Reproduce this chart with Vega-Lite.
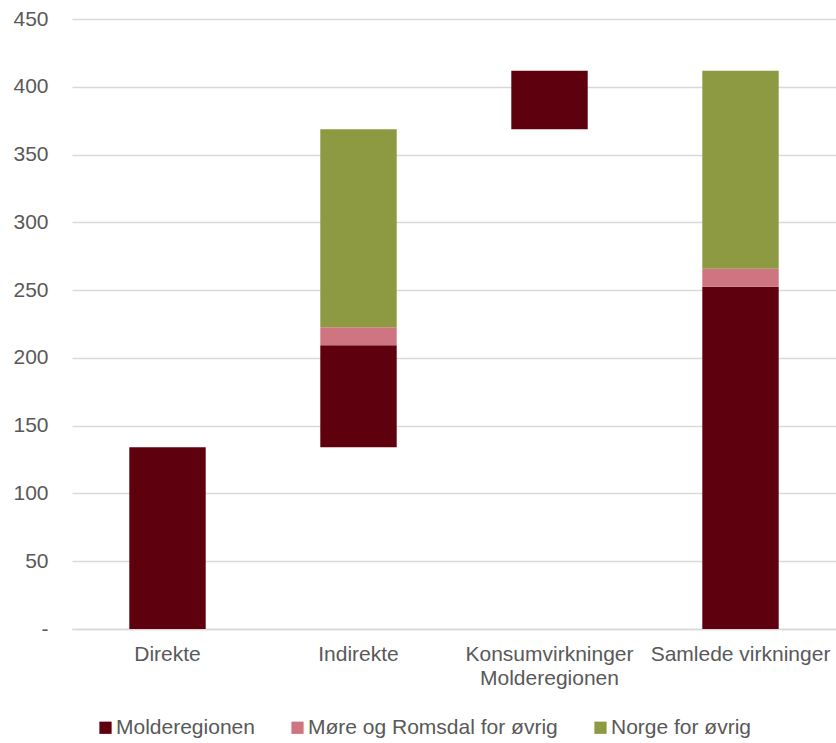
{
  "$schema": "https://vega.github.io/schema/vega-lite/v6.json",
  "width": 764,
  "height": 610,
  "autosize": "none",
  "padding": {"left": 72, "top": 19, "right": 0, "bottom": 114},
  "background": "white",
  "config": {
    "view": {"stroke": null},
    "font": "Liberation Sans"
  },
  "data": {
    "values": [
      {"kategori": "Direkte", "serie": "Molderegionen", "fra": 0, "til": 134},
      {"kategori": "Indirekte", "serie": "Molderegionen", "fra": 134, "til": 209.4},
      {"kategori": "Indirekte", "serie": "Møre og Romsdal for øvrig", "fra": 209.4, "til": 222.6},
      {"kategori": "Indirekte", "serie": "Norge for øvrig", "fra": 222.6, "til": 368.7},
      {"kategori": "Konsumvirkninger Molderegionen", "serie": "Molderegionen", "fra": 368.7, "til": 411.8},
      {"kategori": "Samlede virkninger", "serie": "Molderegionen", "fra": 0, "til": 252.5},
      {"kategori": "Samlede virkninger", "serie": "Møre og Romsdal for øvrig", "fra": 252.5, "til": 265.8},
      {"kategori": "Samlede virkninger", "serie": "Norge for øvrig", "fra": 265.8, "til": 411.8}
    ]
  },
  "mark": {"type": "bar"},
  "encoding": {
    "x": {
      "field": "kategori",
      "type": "nominal",
      "sort": ["Direkte", "Indirekte", "Konsumvirkninger Molderegionen", "Samlede virkninger"],
      "scale": {"paddingInner": 0.6, "paddingOuter": 0.3},
      "axis": {
        "title": null,
        "labelAngle": 0,
        "labelFontSize": 21,
        "labelColor": "#595959",
        "labelPadding": 14,
        "labelLineHeight": 24,
        "labelLimit": 300,
        "ticks": false,
        "domain": true,
        "domainColor": "#D9D9D9",
        "domainWidth": 1.3,
        "labelExpr": "datum.label == 'Konsumvirkninger Molderegionen' ? ['Konsumvirkninger', 'Molderegionen'] : datum.label"
      }
    },
    "y": {
      "field": "fra",
      "type": "quantitative",
      "scale": {"domain": [0, 450], "nice": false},
      "axis": {
        "title": null,
        "values": [0, 50, 100, 150, 200, 250, 300, 350, 400, 450],
        "labelFontSize": 21,
        "labelColor": "#595959",
        "labelPadding": 24,
        "ticks": false,
        "domain": false,
        "gridColor": "#D9D9D9",
        "gridWidth": 1.3,
        "labelExpr": "datum.value == 0 ? '-' : datum.label"
      }
    },
    "y2": {"field": "til"},
    "color": {
      "field": "serie",
      "type": "nominal",
      "scale": {
        "domain": ["Molderegionen", "Møre og Romsdal for øvrig", "Norge for øvrig"],
        "range": ["#5E000D", "#CF7581", "#8E9A41"]
      },
      "legend": {
        "title": null,
        "orient": "none",
        "direction": "horizontal",
        "legendX": 23,
        "legendY": 698,
        "padding": 0,
        "symbolType": "square",
        "symbolSize": 150,
        "symbolStrokeWidth": 0,
        "labelFontSize": 21,
        "labelColor": "#595959",
        "labelOffset": 0,
        "columnPadding": 32,
        "labelLimit": 400
      }
    }
  }
}
